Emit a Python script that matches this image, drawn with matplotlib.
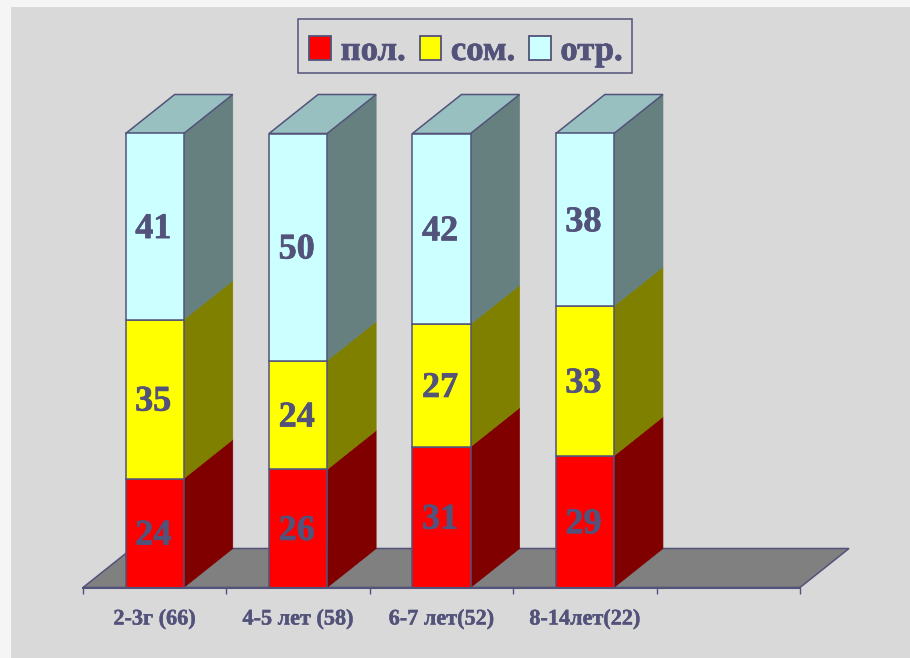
import matplotlib
matplotlib.use("Agg")
import matplotlib.pyplot as plt
import matplotlib.patheffects as pe
from matplotlib.font_manager import FontProperties
from matplotlib.patches import Patch, Polygon, Rectangle

W, H = 910, 658
INK = "#52527a"

categories = ["2-3г (66)", "4-5 лет (58)", "6-7 лет(52)", "8-14лет(22)"]
pol = [24, 26, 31, 29]
som = [35, 24, 27, 33]
otr = [41, 50, 42, 38]
series_names = ["пол.", "сом.", "отр."]

FRONT = ["#ff0000", "#ffff00", "#ccffff"]
SIDE = ["#800000", "#808000", "#668080"]
TOP = "#99c0c0"
FLOOR = "#808080"

BAR_W = 0.405
N_SLOTS = 5
# 3D offset of the back face, in data units
DX = 49 / 143.4
DY = 39 / 4.54


def bold(size):
    return FontProperties(family="Liberation Serif", weight="bold", size=size)


def heavy(width):
    # thicken the glyphs a little, the bold face alone is too light at this size
    return [pe.withStroke(linewidth=width, foreground=INK)]


fig = plt.figure(figsize=(W / 100, H / 100), dpi=100, facecolor="#f5f5f5")
fig.add_artist(Rectangle((11 / W, 0), 1 - 11 / W, 1 - 7 / H, transform=fig.transFigure,
                         fc="#d9d9d9", ec="none", zorder=-5))

ax = fig.add_axes([83 / W, 1 - 587.5 / H, 717 / W, 454 / H])
ax.patch.set_visible(False)
ax.set_xlim(0, N_SLOTS)
ax.set_ylim(0, 100)
for side in ["top", "left", "right"]:
    ax.spines[side].set_visible(False)
ax.spines["bottom"].set_color(INK)
ax.spines["bottom"].set_linewidth(1.5)
ax.spines["bottom"].set_zorder(6)

# floor
ax.add_patch(Polygon([(0, 0), (N_SLOTS, 0), (N_SLOTS + DX, DY), (DX, DY)],
                     fc=FLOOR, ec=INK, lw=1.1, clip_on=False, zorder=1))

bottoms = [0, 0, 0, 0]
for k, vals in enumerate([pol, som, otr]):
    for i, v in enumerate(vals):
        x0 = i + 0.5 - BAR_W / 2
        x1 = x0 + BAR_W
        y0 = bottoms[i]
        y1 = y0 + v
        ax.bar(i + 0.5, v, BAR_W, bottom=y0, color=FRONT[k], edgecolor=INK, linewidth=1.1,
               zorder=3, clip_on=False)
        # side faces carry no outline of their own apart from the top face edge
        ax.add_patch(Polygon([(x1, y0), (x1 + DX, y0 + DY), (x1 + DX, y1 + DY), (x1, y1)],
                             fc=SIDE[k], ec=SIDE[k], lw=0.5, clip_on=False, zorder=2))
        if k == 2:
            ax.add_patch(Polygon([(x0, y1), (x1, y1), (x1 + DX, y1 + DY), (x0 + DX, y1 + DY)],
                                 fc=TOP, ec=INK, lw=1.1, clip_on=False, zorder=2))
        ax.annotate(str(v), (i + 0.49, (y0 + y1) / 2), xytext=(0, -3), textcoords="offset pixels",
                    ha="center", va="center", fontproperties=bold(26), color=INK, zorder=5,
                    annotation_clip=False, path_effects=heavy(0.5))
        bottoms[i] = y1

ax.set_yticks([])
ax.set_xticks(range(N_SLOTS + 1))
ax.set_xticklabels([])
ax.tick_params(axis="x", length=4.5, width=1, color=INK)
for i, name in enumerate(categories):
    ax.annotate(name, (i + 0.5, 0), xytext=(0, -32), textcoords="offset pixels",
                ha="center", va="center", fontproperties=bold(16), color=INK,
                annotation_clip=False, path_effects=heavy(0.3))

# legend box is separate so the entries can sit low inside it
fig.add_artist(Rectangle((298 / W, 1 - 73 / H), 334 / W, 54 / H, transform=fig.transFigure,
                         fc="none", ec=INK, lw=1.1))
handles = [Patch(fc=c, ec=INK, lw=1.3) for c in FRONT]
leg = fig.legend(handles, series_names, loc="center", bbox_to_anchor=(466 / W, 1 - 51.5 / H),
                 ncols=3, prop=bold(25), frameon=False, labelcolor=INK,
                 handlelength=0.62, handleheight=0.7, handletextpad=0.28,
                 columnspacing=0.4, borderpad=0, borderaxespad=0)
for t in leg.get_texts():
    t.set_path_effects(heavy(0.5))

fig.savefig("out.png", dpi=100)
